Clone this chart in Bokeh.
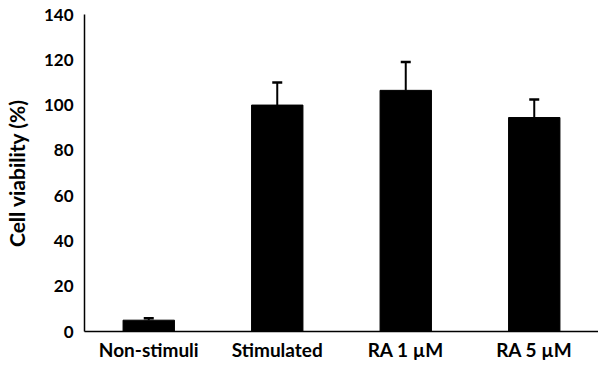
from bokeh.plotting import figure
from bokeh.models import ColumnDataSource, Whisker, TeeHead, FactorRange, Range1d
from bokeh.embed import file_html
from bokeh.resources import INLINE

categories = ["Non-stimuli", "Stimulated", "RA 1 \u00b5M", "RA 5 \u00b5M"]
viability = [5, 100, 106.5, 94.5]
sd = [0.8, 10, 12.5, 8]

upper = [v + e for v, e in zip(viability, sd)]
src = ColumnDataSource(dict(cat=categories, top=viability, upper=upper))

FONT = "Lato"

p = figure(x_range=FactorRange(*categories), y_range=Range1d(0, 140),
           width=598, height=363, output_backend="svg", toolbar_location=None,
           min_border_left=80, min_border_right=0, min_border_top=14, min_border_bottom=20)
p.title.visible = False

p.vbar(x="cat", top="top", width=0.4, source=src, color="black")
w = Whisker(source=src, base="cat", upper="upper", lower="top",
            upper_head=TeeHead(size=10, line_width=2.5, line_color="black"),
            lower_head=None, line_width=2, line_color="black")
p.add_layout(w)

p.xgrid.visible = False
p.ygrid.visible = False
p.outline_line_color = None

p.yaxis.ticker = [0, 20, 40, 60, 80, 100, 120, 140]
p.yaxis.axis_label = "Cell viability (%)"
p.yaxis.axis_label_text_font = FONT
p.yaxis.axis_label_text_font_style = "bold"
p.yaxis.axis_label_text_font_size = "21px"
p.yaxis.axis_label_text_color = "black"
p.yaxis.axis_label_standoff = 12

for ax in (p.xaxis[0], p.yaxis[0]):
    ax.axis_line_color = "black"
    ax.axis_line_width = 1.5
    ax.major_tick_line_color = None
    ax.minor_tick_line_color = None
    ax.major_tick_out = 0
    ax.major_tick_in = 0
    ax.minor_tick_out = 0
    ax.minor_tick_in = 0
    ax.major_label_text_font = FONT
    ax.major_label_text_font_style = "bold"
    ax.major_label_text_color = "black"

p.yaxis.major_label_text_font_size = "17px"
p.xaxis.major_label_text_font_size = "19px"
p.yaxis.major_label_standoff = 11
p.xaxis.major_label_standoff = 6

open("out.html", "w").write(file_html(p, INLINE))
